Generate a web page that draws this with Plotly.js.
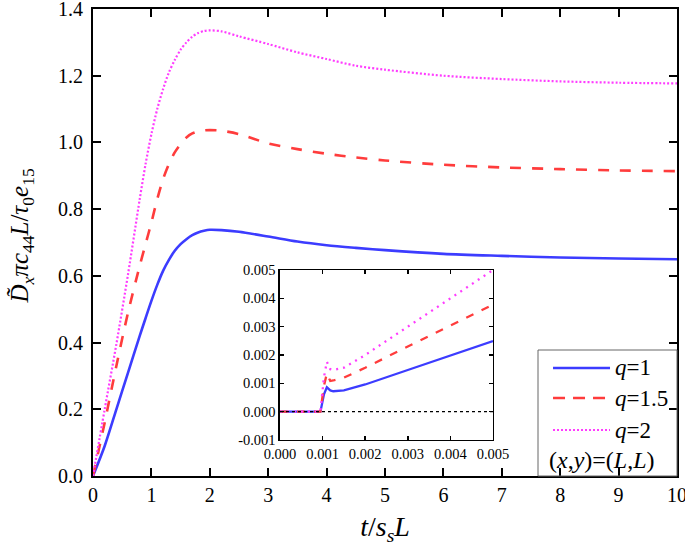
<!DOCTYPE html>
<html>
<head>
<meta charset="utf-8">
<script src="https://cdn.plot.ly/plotly-3.0.1.min.js"></script>
<style>html,body{margin:0;padding:0;background:#fff;}#chart{width:685px;height:546px;}</style>
</head>
<body>
<div id="chart"></div>
<script>
// Main panel data: t/(s_s L) and normalised D_x
const tMain = [0, 0.2, 0.4, 0.6, 0.8, 0.9, 1.0, 1.1, 1.2, 1.3, 1.4, 1.5, 1.6, 1.7, 1.8, 1.9, 2.0, 2.2, 2.5, 3.0, 3.5, 4.0, 4.5, 5.0, 6.0, 7.0, 8.0, 9.0, 10.0];
const q1Main = [0, 0.09, 0.2, 0.31, 0.42, 0.473, 0.525, 0.573, 0.615, 0.648, 0.675, 0.695, 0.71, 0.722, 0.73, 0.735, 0.738, 0.737, 0.732, 0.718, 0.703, 0.692, 0.684, 0.677, 0.666, 0.66, 0.655, 0.652, 0.65];
const q15Main = [0, 0.16, 0.33, 0.49, 0.63, 0.695, 0.76, 0.83, 0.89, 0.935, 0.97, 0.995, 1.015, 1.027, 1.033, 1.036, 1.037, 1.035, 1.025, 0.997, 0.98, 0.966, 0.955, 0.946, 0.933, 0.925, 0.92, 0.916, 0.914];
const q2Main = [0, 0.2, 0.395, 0.605, 0.83, 0.935, 1.025, 1.1, 1.16, 1.21, 1.247, 1.278, 1.3, 1.317, 1.328, 1.334, 1.336, 1.333, 1.318, 1.295, 1.27, 1.25, 1.23, 1.218, 1.2, 1.19, 1.183, 1.179, 1.177];

// Inset data (early times)
const tIn = [0, 0.00095, 0.00103, 0.0011, 0.00118, 0.00125, 0.0015, 0.002, 0.003, 0.004, 0.005];
const q1In = [0, 0, 0.0006, 0.00086, 0.00075, 0.00072, 0.00075, 0.00096, 0.00147, 0.00198, 0.00249];
const q15In = [0, 0, 0.0009, 0.00135, 0.00108, 0.00110, 0.00120, 0.00155, 0.0023, 0.00305, 0.00378];
const q2In = [0, 0, 0.0012, 0.00176, 0.00150, 0.00147, 0.00155, 0.002, 0.003, 0.004, 0.005];

const seriesNames = ['<i>q</i>=1', '<i>q</i>=1.5', '<i>q</i>=2'];
const pointLabel = '(<i>x</i>,<i>y</i>)=(<i>L</i>,<i>L</i>)';
const yTicks = [0, 0.2, 0.4, 0.6, 0.8, 1.0, 1.2, 1.4];
const xTicks = [0, 1, 2, 3, 4, 5, 6, 7, 8, 9, 10];
const insetXTicks = [0, 0.001, 0.002, 0.003, 0.004, 0.005];
const insetYTicks = [-0.001, 0, 0.001, 0.002, 0.003, 0.004, 0.005];

const colors = ['#3c3cff', '#ff3c3c', '#ff3cff'];
const mainDash = ['solid', '11px,11px', '2px,2px'];
const legendDash = ['solid', '12px,8px', '2px,2px'];
const mainWidth = [2.6, 2.6, 2.2];

const FONT = 'Liberation Serif, Times New Roman, serif';

const mainY = [q1Main, q15Main, q2Main];
const insetY = [q1In, q15In, q2In];
const insetDash = ['solid', '8px,9px', '2px,5px'];

const traces = [];
mainY.forEach((ys, i) => traces.push({
  x: tMain, y: ys, name: seriesNames[i], mode: 'lines', showlegend: false,
  line: {color: colors[i], width: mainWidth[i], dash: mainDash[i], shape: 'spline', smoothing: 0.8}
}));
insetY.forEach((ys, i) => traces.push({
  x: tIn, y: ys, xaxis: 'x2', yaxis: 'y2', showlegend: false, mode: 'lines',
  line: {color: colors[i], width: 2.3, dash: insetDash[i]}
}));

const axisCommon = {
  showgrid: false, zeroline: false, showline: true, linecolor: '#000', linewidth: 2,
  ticks: 'inside', ticklen: 8, tickwidth: 2, tickcolor: '#000', mirror: 'ticks',
  ticklabeloverflow: 'allow'
};

// manual legend (paper coords)
const legX0 = 0.7877, legX1 = 0.8853, legTextX = 0.8904;
const legRows = [0.2313, 0.1670, 0.0985];

const shapes = [
  {type: 'rect', xref: 'paper', yref: 'paper', x0: 0.762, x1: 1.0, y0: 0, y1: 0.2698,
   line: {color: '#666', width: 1}, fillcolor: 'rgba(0,0,0,0)'},
  {type: 'line', xref: 'x2 domain', yref: 'y2', x0: 0, x1: 1, y0: 0, y1: 0,
   line: {color: '#000', width: 1.2, dash: 'dot'}}
];
const annotations = [
  {xref: 'paper', yref: 'paper', x: -0.1216, y: 0.515, showarrow: false, textangle: -90,
   xanchor: 'center', yanchor: 'middle',
   text: '<i>D\u0303</i><sub><i>x</i></sub><i>πc</i><sub>44</sub><i>L</i>/<i>τ</i><sub>0</sub><i>e</i><sub>15</sub>',
   font: {size: 25, family: FONT}},
  {xref: 'paper', yref: 'paper', x: 0.7774, y: 0.0343, xanchor: 'left', yanchor: 'middle', showarrow: false,
   text: pointLabel, font: {size: 24, family: FONT}}
];
seriesNames.forEach((nm, i) => {
  shapes.push({type: 'line', xref: 'paper', yref: 'paper', x0: legX0, x1: legX1, y0: legRows[i], y1: legRows[i],
    line: {color: colors[i], width: mainWidth[i], dash: legendDash[i]}});
  annotations.push({xref: 'paper', yref: 'paper', x: legTextX, y: legRows[i], xanchor: 'left', yanchor: 'middle',
    showarrow: false, text: nm, font: {size: 23, family: FONT}});
});

const layout = {
  width: 685, height: 546,
  margin: {l: 93, r: 8, t: 9, b: 70},
  paper_bgcolor: '#fff', plot_bgcolor: '#fff',
  font: {family: FONT, color: '#000', size: 20},
  showlegend: false,
  xaxis: Object.assign({}, axisCommon, {
    range: [0, 10], tickvals: xTicks, ticktext: xTicks.map(String),
    tickfont: {size: 20, family: FONT},
    title: {text: '<i>t</i>/<i>s</i><sub><i>s</i></sub><i>L</i>', font: {size: 28, family: FONT}, standoff: 12}
  }),
  yaxis: Object.assign({}, axisCommon, {
    range: [0, 1.4], tickvals: yTicks, ticktext: yTicks.map(v => v.toFixed(1)),
    tickfont: {size: 20, family: FONT}, ticklabelstandoff: 4
  }),
  xaxis2: Object.assign({}, axisCommon, {
    domain: [0.3202, 0.6849], anchor: 'y2', range: [0, 0.005],
    tickvals: insetXTicks, ticktext: insetXTicks.map(v => v.toFixed(3)),
    ticklen: 4, tickwidth: 1.5, linewidth: 1.5, tickfont: {size: 14.5, family: FONT}
  }),
  yaxis2: Object.assign({}, axisCommon, {
    domain: [0.0771, 0.4411], anchor: 'x2', range: [-0.001, 0.005],
    tickvals: insetYTicks, ticktext: insetYTicks.map(v => v.toFixed(3)),
    ticklen: 4, tickwidth: 1.5, linewidth: 1.5, tickfont: {size: 14.5, family: FONT}
  }),
  shapes: shapes,
  annotations: annotations
};

Plotly.newPlot('chart', traces, layout, {displayModeBar: false, staticPlot: true});
</script>
</body>
</html>
